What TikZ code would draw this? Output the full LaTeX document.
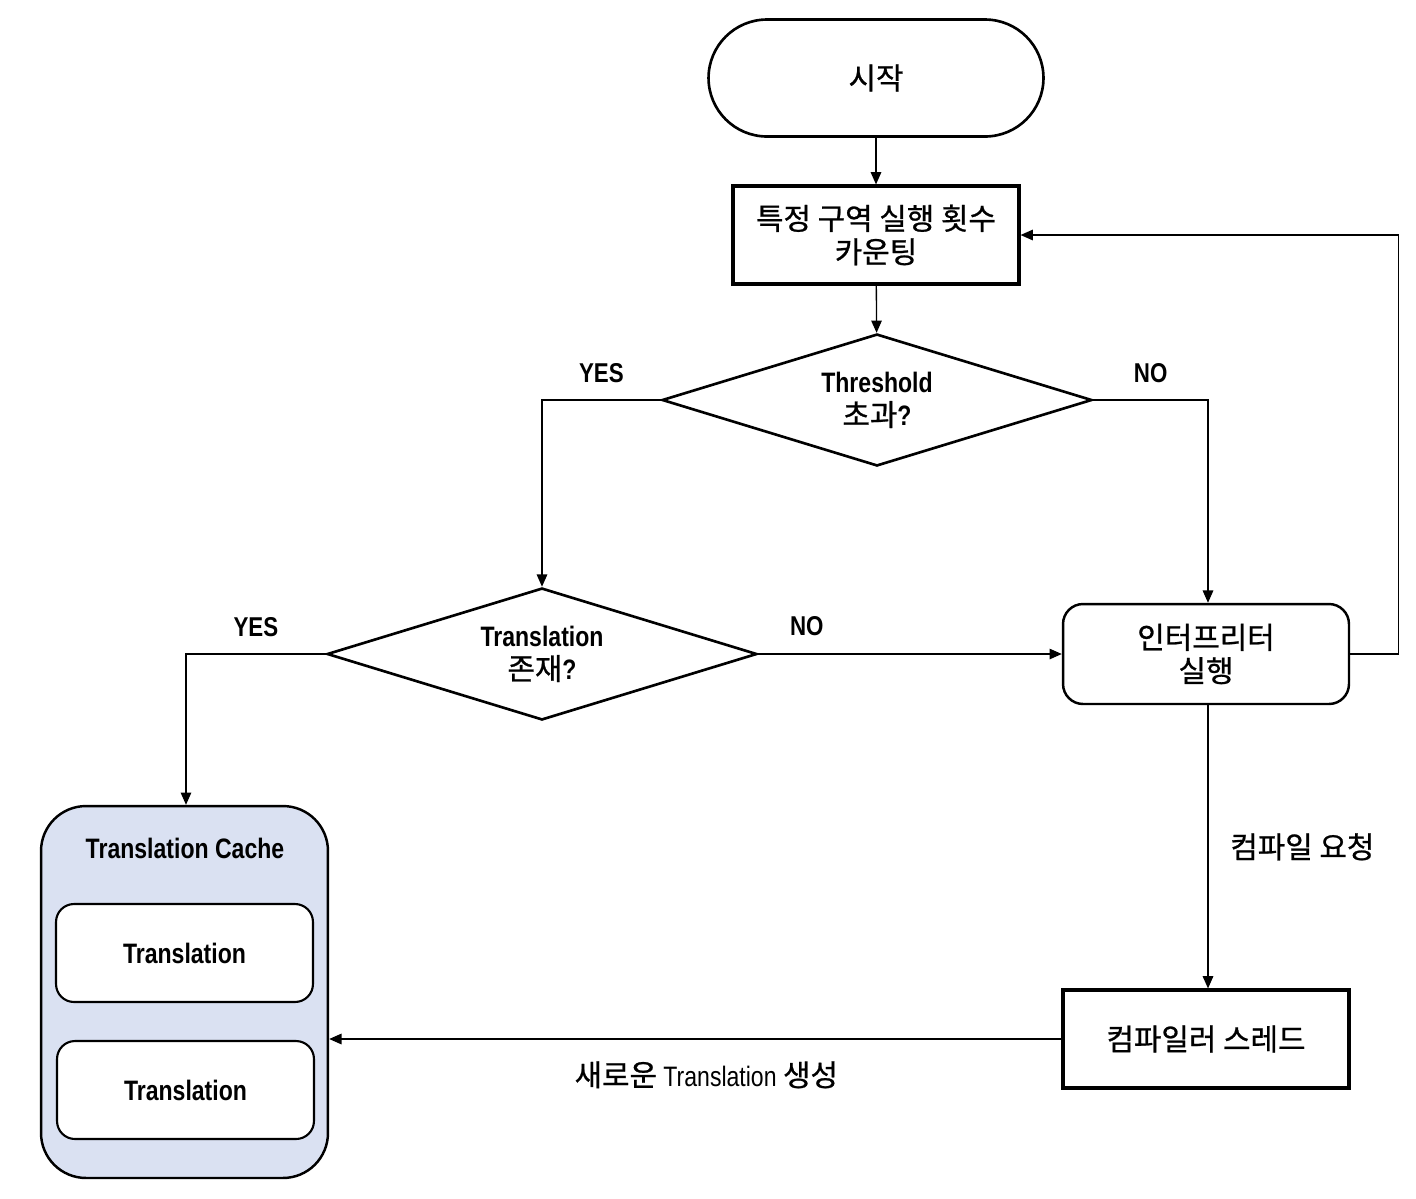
\documentclass[tikz,border=0pt]{standalone}
\usepackage{fontspec}
\setmainfont{Liberation Sans}[FakeStretch=0.82]
\newfontfamily\kr{Noto Sans CJK KR}[FakeBold=0.8]
\usepackage{xcolor}
\usetikzlibrary{shapes.geometric,arrows.meta,positioning}
\definecolor{cachefill}{RGB}{218,225,242}

\begin{document}
\begin{tikzpicture}[x=0.02cm,y=-0.02cm,>={Triangle[length=7pt,width=6pt]},
	every node/.style={align=center,inner sep=0pt,font=\fontsize{16}{19}\selectfont},
	line/.style={line width=0.75pt,->},
	lbl/.style={inner sep=3.33pt,font=\fontsize{15.5}{19}\selectfont\bfseries},
	krtext/.style={font=\fontsize{17}{19}\selectfont\kr},
	terminal/.style={draw,line width=1.5pt,rounded corners=1.17cm,minimum width=6.7cm,minimum height=2.34cm,krtext},
	process/.style={draw,line width=1.8pt,minimum width=5.72cm,minimum height=1.96cm,krtext},
	decision/.style={draw,diamond,aspect=3.26,line width=1.5pt,minimum width=8.6cm,minimum height=2.64cm},
	roundbox/.style={draw,line width=1.4pt,rounded corners=0.4cm,minimum width=5.72cm,minimum height=2cm,krtext},
	cachebox/.style={draw,line width=1.4pt,fill=cachefill,rounded corners=0.9cm,minimum width=5.74cm,minimum height=7.44cm},
	entry/.style={draw,fill=white,line width=1.2pt,rounded corners=0.36cm,minimum width=5.14cm,minimum height=1.96cm,font=\fontsize{16}{19}\selectfont\bfseries}
	]
\useasboundingbox (0,0) rectangle (1416,1198);

% flow nodes
\node[terminal] (start) at (876,78) {시작};
\node[process] (count) at (876,235) {특정 구역 실행 횟수\\카운팅};
\node[decision] (thr) at (877,400) {\textbf{Threshold}\\{\fontsize{17}{19}\kr 초과}\textbf{?}};
\node[decision] (trans) at (542,654) {\textbf{Translation}\\{\fontsize{17}{19}\kr 존재}\textbf{?}};
\node[roundbox] (interp) at (1206,654) {인터프리터\\실행};
\node[process] (comp) at (1206,1039) {컴파일러 스레드};

% translation cache
\node[cachebox] (cache) at (184.5,992) {};
\node[font=\fontsize{16}{19}\selectfont\bfseries] (cachetitle) at (185,848) {Translation Cache};
\node[entry] (tr1) at (184.5,953) {Translation};
\node[entry] (tr2) at (185.5,1090) {Translation};

% connectors
\draw[line] (start) -- (count);
\draw[line] (count) -- (thr);
\draw[line] (thr.west) -| node[lbl,above=6pt,pos=0.25]{YES} (trans.north);
\draw[line] (thr.east) -| node[lbl,above=6pt,pos=0.25]{NO} ([xshift=0.04cm]interp.north);
\draw[line] (trans.west) -| node[lbl,above=6pt,pos=0.25]{YES} ([xshift=0.03cm]cache.north);
\draw[line] (trans.east) -- node[lbl,above=6.5pt,pos=0.16]{NO} (interp.west);
\draw[line] (interp.east) -- ++(48,0) |- (count.east);
\draw[line] ([xshift=0.04cm]interp.south) -- node[inner sep=3.33pt,right=9pt,krtext]{컴파일 요청} ([xshift=0.04cm]comp.north);
\draw[line] (comp.west) -- node[inner sep=3.33pt,below=9pt,pos=0.485]{{\fontsize{17}{19}\kr 새로운} Translation {\fontsize{17}{19}\kr 생성}} (comp.west -| cache.east);
\end{tikzpicture}
\end{document}
